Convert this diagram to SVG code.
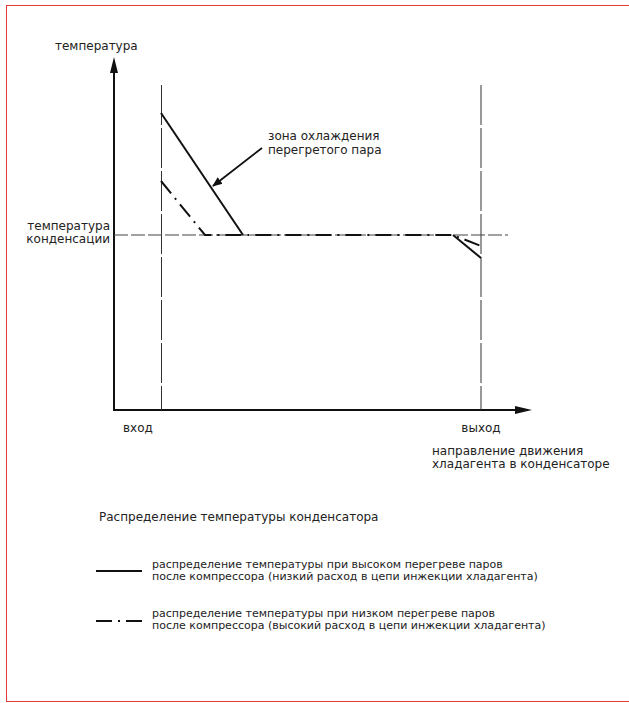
<svg xmlns="http://www.w3.org/2000/svg" width="629" height="703" viewBox="0 0 629 703">
<style>
text{font-family:"DejaVu Sans","Liberation Sans",sans-serif;fill:#222;}
.t12{font-size:12px;}
.t11{font-size:11px;}
.axis{stroke:#111;stroke-width:2;fill:none;}
.vdash{stroke:#333;stroke-width:1;stroke-dasharray:40 3;fill:none;}
.hdash{stroke:#444;stroke-width:1.2;stroke-dasharray:14 3;fill:none;}
.solid{stroke:#111;stroke-width:2;fill:none;}
.dd{stroke:#111;stroke-width:2;stroke-dasharray:16 6 2 6;fill:none;}
</style>
<defs>
<marker id="ah" markerWidth="10" markerHeight="10" refX="9" refY="5" orient="auto" markerUnits="userSpaceOnUse" viewBox="0 0 10 10">
<path d="M0,1 L10,5 L0,9 Z" fill="#111"/>
</marker>
</defs>
<rect x="6.5" y="5.5" width="640" height="696" fill="none" stroke="#e53b3b" stroke-width="1"/>

<g id="axes">
<line class="axis" x1="114" y1="410" x2="114" y2="72"/>
<path d="M114,57 L118,73 L110,73 Z" fill="#111"/>
<line class="axis" x1="113" y1="410" x2="517" y2="410"/>
<path d="M532,410 L515,406 L515,414 Z" fill="#111"/>
</g>

<g id="connectors">
<line class="vdash" x1="161.5" y1="85" x2="161.5" y2="410"/>
<line class="vdash" x1="481" y1="85" x2="481" y2="410"/>
<line class="hdash" x1="114" y1="235" x2="508" y2="235"/>
<polyline class="solid" points="161,113 243,235"/>
<polyline class="solid" points="453,235 481,258"/>
<polyline class="dd" points="161,181 205,235 453,235 481,246"/>
<line x1="262" y1="148" x2="213" y2="186" stroke="#111" stroke-width="1.8" marker-end="url(#ah)"/>
<line class="solid" x1="96" y1="571" x2="142" y2="571"/>
<line class="solid" x1="96" y1="621" x2="112" y2="621"/>
<line class="solid" x1="118" y1="621" x2="120" y2="621"/>
<line class="solid" x1="126" y1="621" x2="142" y2="621"/>
</g>

<g id="labels">
<text class="t12" x="55" y="50">температура</text>
<text class="t12" x="268" y="140">зона охлаждения</text>
<text class="t12" x="268" y="154">перегретого пара</text>
<text class="t12" x="110" y="230" text-anchor="end">температура</text>
<text class="t12" x="110" y="243" text-anchor="end">конденсации</text>
<text class="t12" x="123" y="432">вход</text>
<text class="t12" x="481" y="432" text-anchor="middle">выход</text>
<text class="t12" x="432" y="455">направление движения</text>
<text class="t12" x="432" y="468">хладагента в конденсаторе</text>
<text class="t12" x="99" y="521">Распределение температуры конденсатора</text>
<text class="t11" x="152" y="568">распределение температуры при высоком перегреве паров</text>
<text class="t11" x="152" y="580">после компрессора (низкий расход в цепи инжекции хладагента)</text>
<text class="t11" x="152" y="617">распределение температуры при низком перегреве паров</text>
<text class="t11" x="152" y="629">после компрессора (высокий расход в цепи инжекции хладагента)</text>
</g>
</svg>
